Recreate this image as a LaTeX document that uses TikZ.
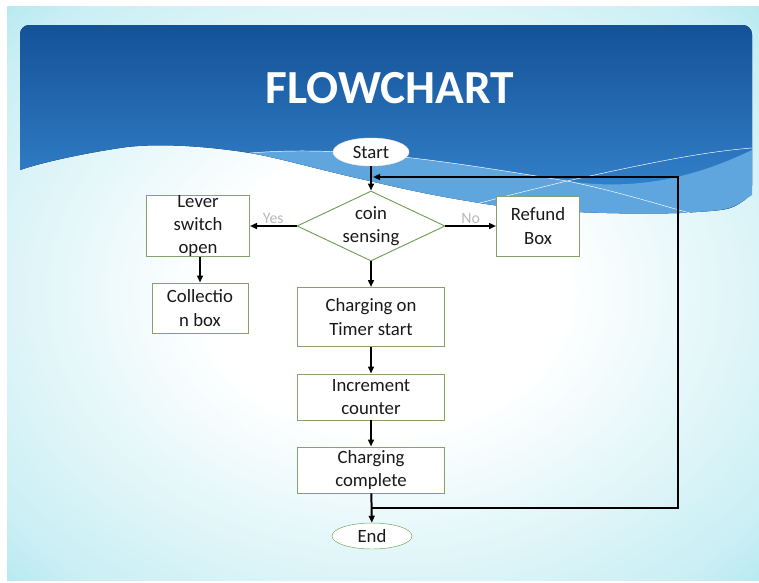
\documentclass[tikz,border=0pt]{standalone}
\usepackage{fontspec}
\setmainfont{Carlito}
\usetikzlibrary{shapes.geometric,arrows.meta}
\definecolor{bgcyan}{RGB}{100,208,224}
\definecolor{hdtop}{RGB}{20,82,152}
\definecolor{hdbot}{RGB}{55,135,208}
\definecolor{hdband}{RGB}{95,165,222}
\definecolor{boxline}{RGB}{135,160,110}
\definecolor{diamline}{RGB}{110,160,85}
\definecolor{ink}{RGB}{25,25,25}
\pgfdeclareradialshading{slidebg}{\pgfpoint{0bp}{0bp}}{color(0bp)=(white); color(12bp)=(white);
  color(32bp)=(bgcyan!35!white); color(46bp)=(bgcyan!80!white); color(72bp)=(bgcyan)}
\tikzset{every flownode/.style={font=\fontsize{16}{20}\selectfont, text=ink, align=center},
        process/.style = {every flownode, draw=boxline, fill=white, thick,
                          inner sep=1pt, minimum width=4.41cm},
        decision/.style = {every flownode, diamond, draw=diamline, fill=white, thick,
                           aspect=2.1, inner sep=0pt, minimum width=4.44cm, minimum height=2.1cm},
        terminal/.style = {every flownode, ellipse, fill=white, inner sep=0pt},
        link/.style = {draw=black, line width=1.7pt, -{Triangle[length=6pt,width=5pt]}},
        answer/.style = {font=\fontsize{13.5}{15}\selectfont, text=gray!55, above, inner sep=1pt},
        }

\begin{document}
\begin{tikzpicture}[x=0.03cm,y=-0.03cm]
    \useasboundingbox (0,0) rectangle (759,582);
    % slide background and header
    \fill[shading=slidebg] (7,6) rectangle (759,580);
    \fill[top color=hdtop, bottom color=hdbot, rounded corners=8pt]
        (20,170) -- (20,25) -- (752,25) -- (752,195) [sharp corners]
        .. controls (730,210) .. (680,213) .. controls (600,215) and (520,210) .. (480,203)
        .. controls (430,195) and (400,188) .. (370,181) .. controls (320,170) and (280,158) .. (250,153)
        .. controls (200,145) and (150,143) .. (120,148) .. controls (80,154) and (40,163) .. (20,170);
    \fill[hdband] (250,153) .. controls (350,145) and (450,162) .. (567,181)
        .. controls (640,192) and (700,175) .. (752,150) -- (752,195)
        .. controls (730,210) .. (680,213) .. controls (600,215) and (520,210) .. (480,203)
        .. controls (430,195) and (400,188) .. (370,181) .. controls (320,170) and (280,158) .. (250,153);
    \draw[white, thin] (250,153) .. controls (350,145) and (450,162) .. (567,181)
        .. controls (620,192) and (660,205) .. (690,213);
    \draw[white, thin] (480,203) .. controls (510,195) .. (567,181)
        .. controls (640,165) and (700,152) .. (752,148);
    \node[text=white, font=\fontsize{40.5}{46}\selectfont\bfseries] (title) at (390,88) {FLOWCHART};

    % flowchart
    \node[terminal, draw=white!85!gray, minimum width=2.28cm, minimum height=0.84cm] (start) at (371,152) {Start};
    \node[decision] (coin) at (371,226) {coin\\sensing};
    \node[process, minimum width=3.09cm, minimum height=1.8cm, inner ysep=0pt] (lever) at (198,226) {Lever\\switch\\open};
    \node[process, minimum width=2.49cm, minimum height=1.8cm] (refund) at (538,226) {Refund\\Box};
    \node[process, minimum width=2.88cm, minimum height=1.5cm] (collect) at (200,308) {Collectio\\n box};
    \node[process, minimum height=1.77cm] (charge) at (371,317) {Charging on\\Timer start};
    \node[process, minimum height=1.38cm] (incr) at (371,397) {Increment\\counter};
    \node[process, minimum height=1.38cm] (done) at (371,470) {Charging\\complete};
    \node[terminal, draw=diamline, minimum width=2.4cm, minimum height=0.78cm] (end) at (372,536) {End};
    \coordinate (jn) at (372,508);
    \coordinate (back) at (373,177);

    \draw[link] (start) -- (coin);
    \draw[link] (coin) -- node[answer] {Yes} (lever);
    \draw[link] (coin) -- node[answer] {No} (refund);
    \draw[link] (lever.south -| collect.north) -- (collect.north);
    \draw[link] (coin) -- (charge);
    \draw[link] (charge) -- (incr);
    \draw[link] (incr) -- (done);
    \draw[link] (done) -- (end);
    \draw[link] (jn) -- ++(306,0) |- (back);
\end{tikzpicture}
\end{document}
